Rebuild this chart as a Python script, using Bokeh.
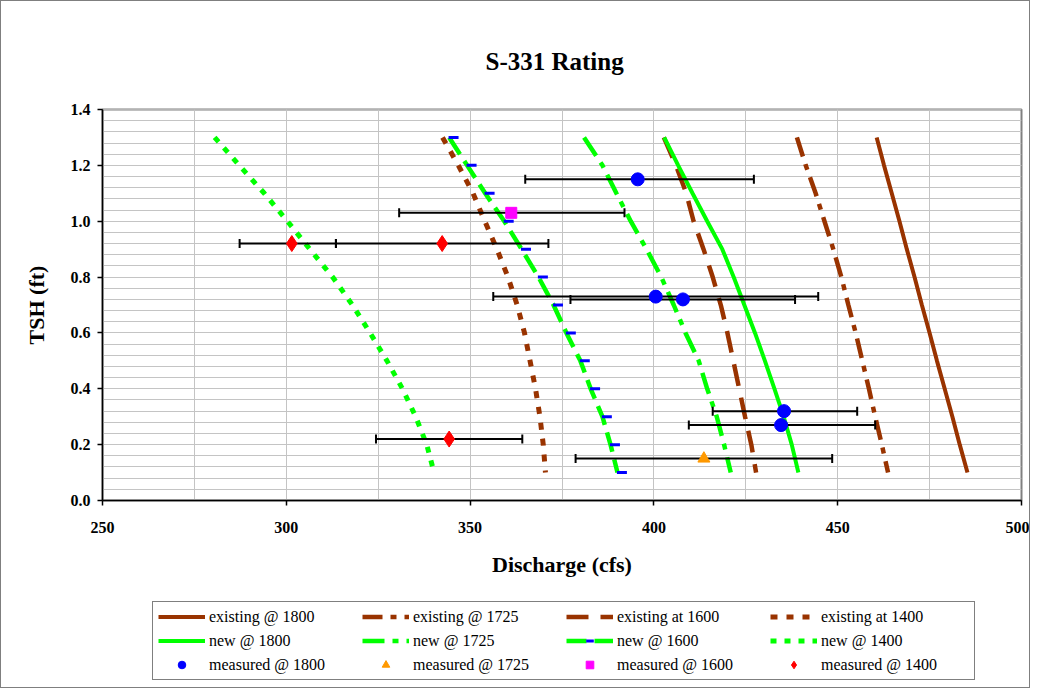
import math
from bokeh.plotting import figure
from bokeh.layouts import column
from bokeh.models import (ColumnDataSource, Legend, LegendItem, Range1d,
                          SingleIntervalTicker, PrintfTickFormatter)
from bokeh.transform import dodge
from bokeh.embed import file_html
from bokeh.resources import INLINE

# ---------------- data ----------------
tsh = [1.3, 1.2, 1.1, 1.0, 0.9, 0.8, 0.7, 0.6, 0.5, 0.4, 0.3, 0.2, 0.1]

existing_1800 = [460.6, 462.6, 464.7, 466.8, 468.8, 470.9, 472.9, 475.0, 477.0, 479.1, 481.2, 483.2, 485.3]
existing_1725 = [438.9, 441.3, 444.0, 446.4, 448.8, 451.0, 452.9, 454.9, 456.7, 458.5, 460.2, 462.0, 463.7]
existing_1600 = [402.7, 406.0, 408.8, 410.8, 413.5, 416.0, 418.2, 420.0, 421.6, 423.2, 424.8, 426.5, 427.8]
existing_1400 = [342.5, 346.8, 350.8, 354.0, 357.3, 360.3, 362.8, 364.8, 366.3, 367.8, 369.0, 369.9, 370.5]

new_1800 = [402.8, 406.6, 410.5, 414.5, 418.6, 421.7, 424.6, 427.5, 430.2, 432.8, 435.3, 437.5, 439.3]
new_1725 = [381.0, 386.0, 389.8, 393.7, 398.0, 402.0, 405.4, 408.6, 412.2, 414.5, 417.1, 419.1, 420.9]
new_1600 = [344.3, 349.2, 354.1, 359.3, 364.0, 368.6, 372.7, 376.2, 380.0, 382.8, 386.0, 388.2, 390.1]
new_1400 = [280.5, 287.2, 294.0, 300.3, 306.4, 312.6, 318.0, 322.8, 327.4, 331.6, 335.2, 338.2, 340.2]

meas_1800_q = [395.6, 400.5, 407.9, 435.4, 434.6]
meas_1800_h = [1.15, 0.73, 0.72, 0.32, 0.27]
meas_1800_lo = [365.0, 356.3, 377.3, 416.0, 409.5]
meas_1800_hi = [427.2, 444.7, 438.4, 455.3, 460.2]

meas_1725_q = [413.6]
meas_1725_h = [0.15]
meas_1725_lo = [378.7]
meas_1725_hi = [448.5]

meas_1600_q = [361.2]
meas_1600_h = [1.03]
meas_1600_lo = [330.7]
meas_1600_hi = [392.0]

meas_1400_q = [301.5, 342.4, 344.3]
meas_1400_h = [0.92, 0.92, 0.22]
meas_1400_lo = [287.3, 313.5, 324.4]
meas_1400_hi = [313.5, 371.3, 364.2]

x_label = "Discharge (cfs)"
y_label = "TSH (ft)"
title = "S-331 Rating"

# ---------------- styling ----------------
SERIF = "Liberation Serif"
BROWN = "#993300"
GREEN = "#00FF00"

p = figure(width=1028, height=579, output_backend="svg",
           toolbar_location=None,
           x_range=Range1d(250, 500), y_range=Range1d(0, 1.40001),
           min_border_left=101, min_border_right=8, min_border_top=108,
           min_border_bottom=80)

p.title.text = title
p.title.align = "left"
p.title.offset = 383
p.title.text_font = SERIF
p.title.text_font_size = "25px"
p.title.text_font_style = "bold"
p.title.text_color = "black"
p.title.standoff = 70

p.outline_line_color = "#808080"
p.outline_line_width = 2
p.background_fill_color = "white"

p.xaxis.ticker = SingleIntervalTicker(interval=50, num_minor_ticks=2)
p.yaxis.ticker = SingleIntervalTicker(interval=0.2, num_minor_ticks=5)
p.yaxis.formatter = PrintfTickFormatter(format="%.1f")

for ax in (p.xaxis, p.yaxis):
    ax.axis_line_color = "black"
    ax.axis_line_width = 1.5
    ax.major_tick_line_color = "black"
    ax.major_tick_line_width = 1.5
    ax.major_tick_out = 5
    ax.major_tick_in = 0
    ax.minor_tick_line_color = None
    ax.major_label_text_font = SERIF
    ax.major_label_text_font_size = "16px"
    ax.major_label_text_font_style = "bold"
    ax.major_label_text_color = "black"
    ax.axis_label_text_font = SERIF
    ax.axis_label_text_font_size = "22px"
    ax.axis_label_text_font_style = "bold"
    ax.axis_label_text_color = "black"

p.xaxis.axis_label = x_label
p.yaxis.axis_label = y_label
p.xaxis.major_label_standoff = 16
p.xaxis.axis_label_standoff = 16
p.yaxis.major_label_standoff = 7
p.yaxis.axis_label_standoff = 19

for g in (p.xgrid, p.ygrid):
    g.grid_line_color = "#c4c4c4"
    g.grid_line_width = 1
    g.minor_grid_line_color = "#c4c4c4"
    g.minor_grid_line_width = 1

# line styles, shared by the plot and the legend panel
LINE_STYLES = [
    ("existing @ 1800", BROWN, 4, "solid"),
    ("existing @ 1725", BROWN, 4.5, "20 8 6 8"),
    ("existing at 1600", BROWN, 4.5, "22 12"),
    ("existing at 1400", BROWN, 5, "7 9"),
    ("new @ 1800", GREEN, 4, "solid"),
    ("new @ 1725", GREEN, 4.5, "22 8 6 8"),
    ("new @ 1600", GREEN, 4.5, "20 8"),
    ("new @ 1400", GREEN, 5, "6 8"),
]
line_data = [existing_1800, existing_1725, existing_1600, existing_1400,
             new_1800, new_1725, new_1600, new_1400]
MARK_STYLES = [
    ("measured @ 1800", "circle", "#0000FF", 13),
    ("measured @ 1725", "triangle", "#FF9900", 12),
    ("measured @ 1600", "square", "#FF00FF", 11),
    ("measured @ 1400", "diamond", "#FF0000", 16),
]

# ---------------- lines ----------------
src_n1600 = None
for (lab, color, width, dash), xs in zip(LINE_STYLES, line_data):
    src = ColumnDataSource(dict(x=xs, y=tsh))
    p.line("x", "y", source=src, line_color=color, line_width=width, line_dash=dash)
    if lab == "new @ 1600":
        src_n1600 = src

p.scatter(dodge("x", 1.2, range=p.x_range), "y", source=src_n1600,
          marker="dash", size=10, line_color="blue", line_width=3)

# ---------------- measured with error bars ----------------
meas = [
    (meas_1800_q, meas_1800_h, meas_1800_lo, meas_1800_hi),
    (meas_1725_q, meas_1725_h, meas_1725_lo, meas_1725_hi),
    (meas_1600_q, meas_1600_h, meas_1600_lo, meas_1600_hi),
    (meas_1400_q, meas_1400_h, meas_1400_lo, meas_1400_hi),
]
srcs = []
for q, h, lo, hi in meas:
    src = ColumnDataSource(dict(x=q, y=h, lo=lo, hi=hi))
    srcs.append(src)
    p.segment(x0="lo", y0="y", x1="hi", y1="y", source=src,
              line_color="black", line_width=2)
    for end in ("lo", "hi"):
        p.scatter(end, "y", source=src, marker="dash", angle=math.pi / 2,
                  size=9, line_color="black", line_width=2)
for src, (lab, marker, color, size) in zip(srcs, MARK_STYLES):
    p.scatter("x", "y", source=src, marker=marker, size=size,
              fill_color=color, line_color=color)

# ---------------- legend panel ----------------
p2 = figure(width=1028, height=107, output_backend="svg", toolbar_location=None,
            x_range=Range1d(0, 1), y_range=Range1d(0, 1), min_border=0)
p2.axis.visible = False
p2.grid.visible = False
p2.outline_line_color = None

# legend proxies: styled renderers whose points lie outside the visible range
proxy = ColumnDataSource(dict(x=[-5, -4], y=[-5, -4]))
items = []
for lab, color, width, dash in LINE_STYLES:
    rs = [p2.line("x", "y", source=proxy, line_color=color, line_width=width,
                  line_dash=dash)]
    if lab == "new @ 1600":
        rs.append(p2.scatter("x", "y", source=proxy, marker="dash", size=10,
                             line_color="blue", line_width=3))
    items.append(LegendItem(label=lab, renderers=rs))
for lab, marker, color, size in MARK_STYLES:
    r = p2.scatter("x", "y", source=proxy, marker=marker, size=size,
                   fill_color=color, line_color=color)
    items.append(LegendItem(label=lab, renderers=[r]))

legend = Legend(items=items, orientation="horizontal", ncols=4,
                location=(50, 7), glyph_width=47, glyph_height=19,
                label_standoff=4, label_width=148, spacing=5, padding=5,
                margin=0, border_line_color="black", border_line_width=1,
                label_text_font=SERIF, label_text_font_size="16px",
                label_text_color="black",
                label_height=19, background_fill_alpha=1)
p2.add_layout(legend)

layout = column(p, p2, spacing=0)
layout.styles = {"border": "1px solid #7f7f7f"}

open("out.html", "w").write(file_html(layout, INLINE))
